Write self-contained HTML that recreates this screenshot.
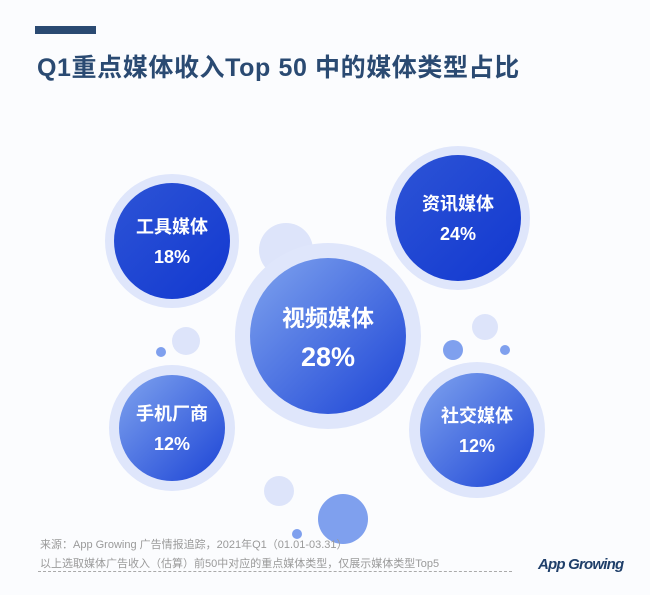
<!DOCTYPE html>
<html><head><meta charset="utf-8">
<style>
body{margin:0;background:#fbfcfe;}
#wrap{position:relative;width:650px;height:595px;overflow:hidden;background:#fbfcfe;font-family:"Liberation Sans","Noto Sans CJK SC",sans-serif;}
.t{position:absolute;}
</style></head><body>
<div id="wrap">
<div class="t" style="left:35px;top:26px;width:61px;height:8px;background:#2a4a72"></div>
<div class="t" style="left:37px;top:48px;font-size:25px;font-weight:bold;color:#2a4a72;letter-spacing:0.6px;white-space:nowrap">Q1重点媒体收入Top 50 中的媒体类型占比</div>
<svg id="svg" width="650" height="595" style="position:absolute;left:0;top:0">
<defs>
<linearGradient id="g" x1="0" y1="0" x2="1" y2="1">
<stop offset="0" stop-color="#2d54d6"/><stop offset="1" stop-color="#1238d0"/></linearGradient>
<linearGradient id="g2" x1="0" y1="0" x2="1" y2="1">
<stop offset="0" stop-color="#7fa3ee"/><stop offset="1" stop-color="#1c44d6"/></linearGradient>
</defs>
</svg>
<div class="t" style="left:40px;top:536px;font-size:11px;color:#9a9a9a;white-space:nowrap">来源：App Growing 广告情报追踪，2021年Q1（01.01-03.31）</div>
<div class="t" style="left:40px;top:555px;font-size:11px;color:#9a9a9a;white-space:nowrap">以上选取媒体广告收入（估算）前50中对应的重点媒体类型，仅展示媒体类型Top5</div>
<div class="t" style="left:38px;top:571px;width:474px;border-top:1px dashed #aaa"></div>
<div class="t" style="left:538px;top:556px;font-size:15px;font-style:italic;font-weight:bold;color:#1f3f6a;letter-spacing:-0.8px">App Growing</div>
</div>
<script>
const categories=["工具媒体","资讯媒体","视频媒体","手机厂商","社交媒体"];
const values=[18,24,28,12,12];
const layout=[[172,241,67,58,0],[458,218,72,63,0],[328,336,93,78,1],[172,428,63,53,1],[477,430,68,57,1]];
const deco=[[286,250,27,"#dde4fa"],[332,271,12,"#7fa0ee"],[186,341,14,"#dde4fa"],[161,352,5,"#7fa0ee"],[485,327,13,"#dde4fa"],[453,350,10,"#7fa0ee"],[505,350,5,"#7fa0ee"],[279,491,15,"#dde4fa"],[343,519,25,"#7fa0ee"],[297,534,5,"#7fa0ee"]];
const svg=document.getElementById('svg');
const NS="http://www.w3.org/2000/svg";
deco.forEach(d=>{
 const c=document.createElementNS(NS,'circle');
 c.setAttribute('cx',d[0]);c.setAttribute('cy',d[1]);c.setAttribute('r',d[2]);c.setAttribute('fill',d[3]);
 
 
 svg.appendChild(c);
});
categories.forEach((cat,i)=>{
 const [x,y,ro,ri,gr]=layout[i];
 const g=document.createElementNS(NS,'g');
 
 
 const o=document.createElementNS(NS,'circle');
 o.setAttribute('cx',x);o.setAttribute('cy',y);o.setAttribute('r',ro);o.setAttribute('fill','#dfe6fb');
 g.appendChild(o);
 const c=document.createElementNS(NS,'circle');
 c.setAttribute('cx',x);c.setAttribute('cy',y);c.setAttribute('r',ri);c.setAttribute('fill',gr?'url(#g2)':'url(#g)');
 g.appendChild(c);
 const big=i===2;
 const fs=big?23:18;
 const t1=document.createElementNS(NS,'text');
 t1.setAttribute('x',x);t1.setAttribute('y',y-(big?10:8));t1.setAttribute('text-anchor','middle');
 t1.setAttribute('font-size',fs);t1.setAttribute('font-weight','bold');t1.setAttribute('fill','#fff');
 
 
 t1.textContent=cat;g.appendChild(t1);
 const t2=document.createElementNS(NS,'text');
 t2.setAttribute('x',x);t2.setAttribute('y',y+(big?30:22));t2.setAttribute('text-anchor','middle');
 t2.setAttribute('font-size',big?27:18);t2.setAttribute('font-weight','bold');t2.setAttribute('fill','#fff');
 
 
 t2.textContent=values[i]+'%';g.appendChild(t2);
 svg.appendChild(g);
});
</script>
</body></html>
